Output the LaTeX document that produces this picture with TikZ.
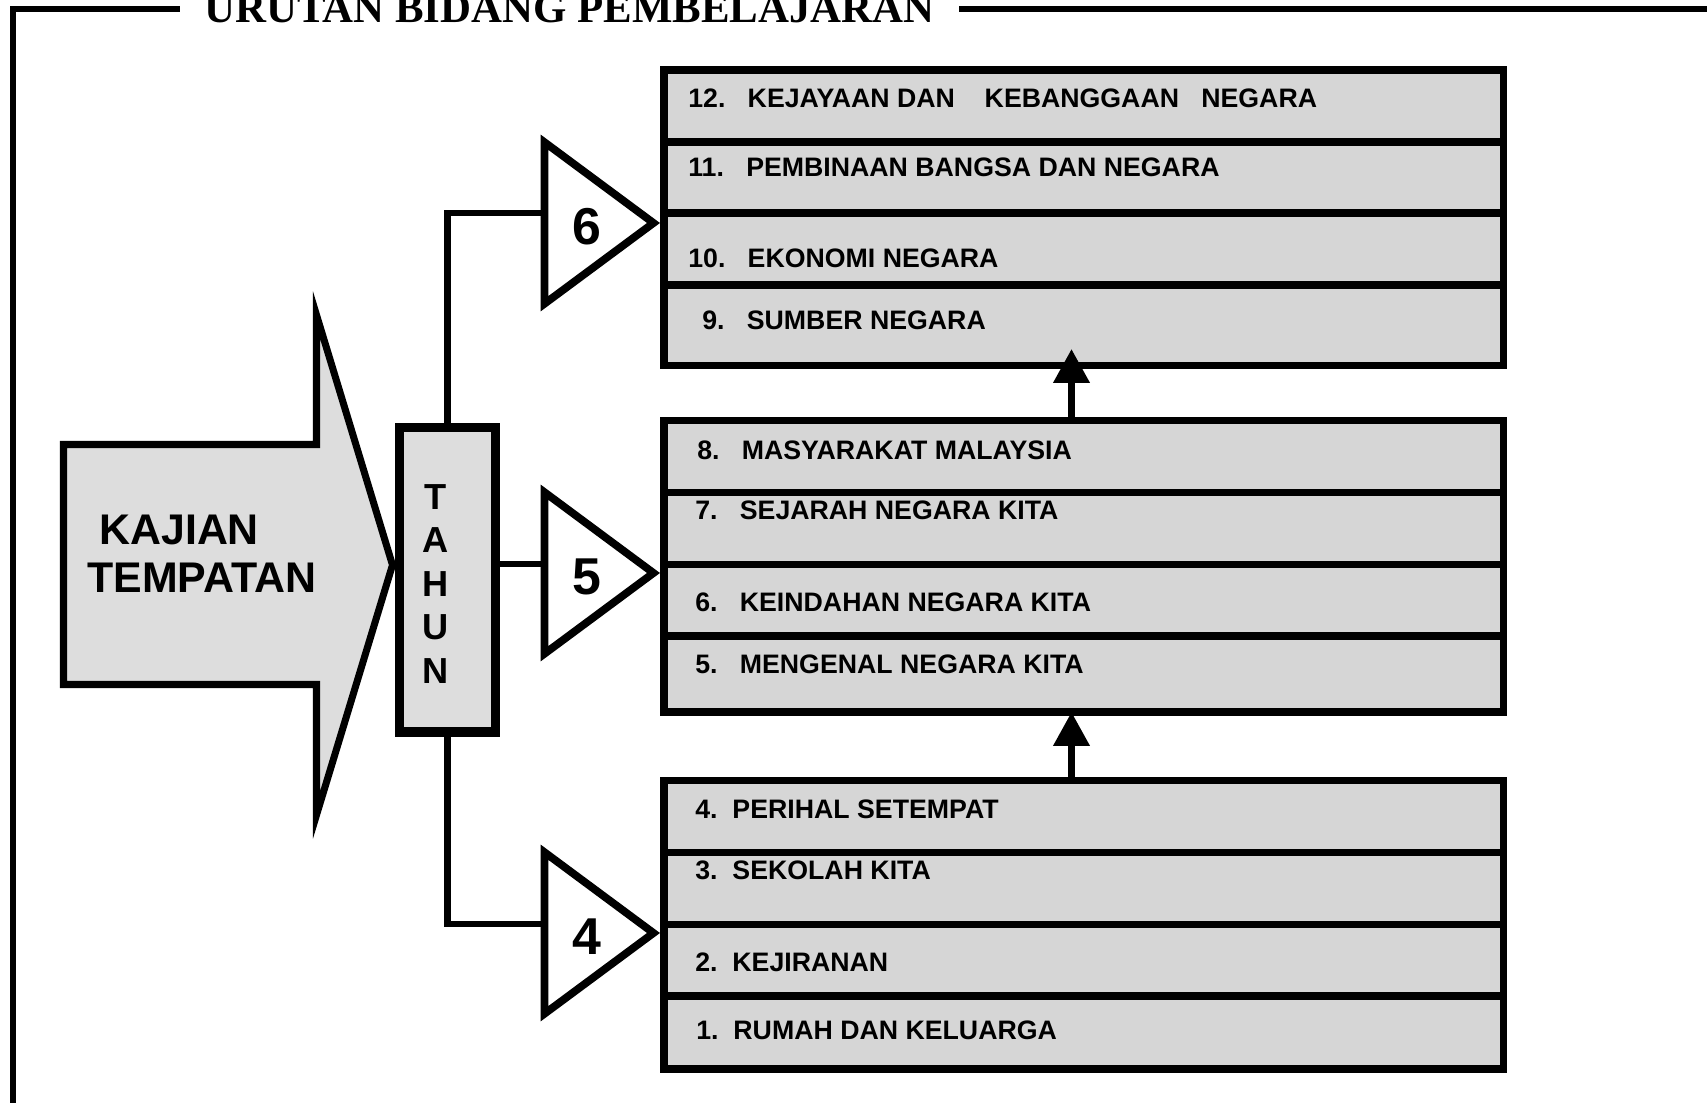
\documentclass[tikz,border=0pt]{standalone}
\usepackage{fontspec}
\setmainfont{Liberation Sans}
\newfontfamily\titlefont{Liberation Serif}
\usetikzlibrary{arrows.meta, shapes.geometric}
\definecolor{xRow}{RGB}{214,214,214}
\definecolor{xLight}{RGB}{221,221,221}
\tikzset{
  frame/.style={line width=3.4pt},
  bigarrow/.style={draw, fill=xLight, line width=4pt},
  tahunbox/.style={draw, fill=xLight, line width=5.4pt, minimum width=1.91cm, minimum height=6.09cm, outer sep=0pt},
  tri/.style={isosceles triangle, isosceles triangle stretches, draw, fill=white, line width=4.4pt,
              minimum width=3.23cm, minimum height=2.18cm, inner sep=0pt, outer sep=0pt},
  digit/.style={inner sep=0pt, xshift=0.04cm, yshift=-0.07cm, font=\bfseries\fontsize{29.5}{32}\selectfont},
  row/.style={draw, fill=xRow, line width=4.3pt, minimum width=16.79cm, anchor=north west,
              inner sep=0pt, outer sep=0pt},
  item/.style={anchor=base west, inner sep=0pt, font=\bfseries\fontsize{15.2}{18}\selectfont},
  link/.style={line width=3.8pt},
  upflow/.style={-{Triangle[length=0.68cm, width=0.70cm]}, line width=4.1pt},
}

\begin{document}
\begin{tikzpicture}
    \useasboundingbox (0,0) rectangle (34.14,22.06);
    % frame and title
    \node[anchor=base, inner xsep=0.48cm, inner ysep=0pt,
          font=\titlefont\bfseries\fontsize{24.4}{28}\selectfont] (title) at (11.39,21.60) {URUTAN BIDANG PEMBELAJARAN};
    \coordinate (frbl) at (0.26,-0.3);
    \coordinate (frtr) at (34.5,21.86);
    \draw[frame] (frbl) |- (title.west);
    \draw[frame] (title.east) -- (title.east -| frtr);

    % big arrow
    \draw[bigarrow] (1.27,13.17) -- (6.33,13.17) -- (6.33,15.76) -- (7.85,10.76)
      -- (6.33,5.76) -- (6.33,8.37) -- (1.27,8.37) -- cycle;
    \node[anchor=base west, inner sep=0pt, font=\bfseries\fontsize{24.4}{28}\selectfont] (kaj) at (1.98,11.17) {KAJIAN};
    \node[anchor=base west, inner sep=0pt, font=\bfseries\fontsize{24.4}{28}\selectfont] (tem) at (1.74,10.20) {TEMPATAN};

    % year triangles
    \node[tri, anchor=lower side, label={[digit]center:6}] (t6) at (10.89,17.60) {};
    \node[tri, anchor=lower side, label={[digit]center:5}] (t5) at (10.89,10.60) {};
    \node[tri, anchor=lower side, label={[digit]center:4}] (t4) at (10.89,3.40) {};
    \coordinate (in6) at ([yshift=0.2cm]t6.lower side);
    \coordinate (in5) at ([yshift=0.18cm]t5.lower side);
    \coordinate (in4) at ([yshift=0.18cm]t4.lower side);

    % tahun
    \node[tahunbox] (th) at (8.95,10.46) {};
    \draw[link] (th.north) |- (in6);
    \draw[link] (th.east |- in5) -- (in5);
    \draw[link] (th.south) |- (in4);
    \node[align=center, inner sep=0pt, font=\bfseries\fontsize{20.6}{24.75}\selectfont] (thl) at (8.72,10.38) {T\\A\\H\\U\\N};

    % tahun 6
    \node[row, minimum height=1.44cm] (r12) at (13.28,20.66) {};
    \node[row, minimum height=1.42cm] (r11) at (13.28,19.22) {};
    \node[row, minimum height=1.44cm] (r10) at (13.28,17.80) {};
    \node[row, minimum height=1.61cm] (r9)  at (13.28,16.36) {};
    \node[item] (l12) at (13.76,19.90) {12.~~~KEJAYAAN DAN~~~~KEBANGGAAN~~~NEGARA};
    \node[item] (l11) at (13.76,18.52) {11.~~~PEMBINAAN BANGSA DAN NEGARA};
    \node[item] (l10) at (13.76,16.70) {10.~~~EKONOMI NEGARA};
    \node[item] (l9)  at (14.04,15.46) {9.~~~SUMBER NEGARA};

    % tahun 5
    \node[row, minimum height=1.44cm] (r8) at (13.28,13.65) {};
    \node[row, minimum height=1.44cm] (r7) at (13.28,12.21) {};
    \node[row, minimum height=1.43cm] (r6) at (13.28,10.77) {};
    \node[row, minimum height=1.52cm] (r5) at (13.28,9.34) {};
    \node[item] (l8) at (13.94,12.86) {8.~~~MASYARAKAT MALAYSIA};
    \node[item] (l7) at (13.90,11.66) {7.~~~SEJARAH NEGARA KITA};
    \node[item] (l6) at (13.90,9.82)  {6.~~~KEINDAHAN NEGARA KITA};
    \node[item] (l5) at (13.90,8.58)  {5.~~~MENGENAL NEGARA KITA};

    % tahun 4
    \node[row, minimum height=1.44cm] (r4) at (13.28,6.45) {};
    \node[row, minimum height=1.44cm] (r3) at (13.28,5.01) {};
    \node[row, minimum height=1.43cm] (r2) at (13.28,3.57) {};
    \node[row, minimum height=1.46cm] (r1) at (13.28,2.14) {};
    \node[item] (l4) at (13.90,5.68) {4.~~PERIHAL SETEMPAT};
    \node[item] (l3) at (13.90,4.46) {3.~~SEKOLAH KITA};
    \node[item] (l2) at (13.90,2.62) {2.~~KEJIRANAN};
    \node[item] (l1) at (13.92,1.26) {1.~~RUMAH DAN KELUARGA};

    \draw[upflow] ([xshift=-0.245cm]r8.north) -- ([xshift=-0.245cm, yshift=0.33cm]r9.south);
    \draw[upflow] ([xshift=-0.245cm]r4.north) -- ([xshift=-0.245cm]r5.south);
  \end{tikzpicture}
\end{document}
